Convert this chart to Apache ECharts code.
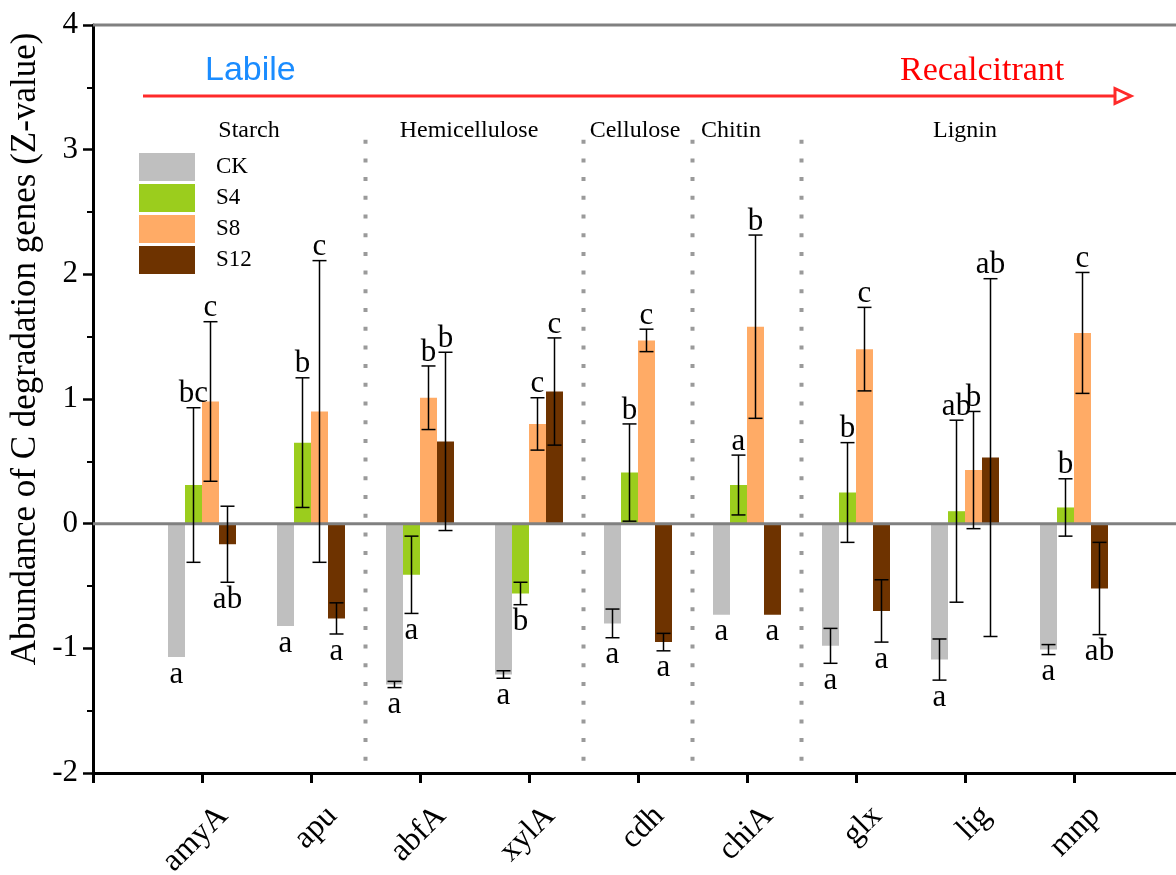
<!DOCTYPE html>
<html><head><meta charset="utf-8">
<script src="https://cdn.jsdelivr.net/npm/echarts@6/dist/echarts.min.js"></script>
<style>html,body{margin:0;padding:0;background:#fff}#c{width:1176px;height:875px}</style>
</head><body><div id="c"></div>
<script>
// ---------------- data ----------------
const genes = ['amyA','apu','abfA','xylA','cdh','chiA','glx','lig','mnp'];
const treatments = ['CK','S4','S8','S12'];
const meanCK  = [-1.07,-0.82,-1.29,-1.21,-0.80,-0.73,-0.98,-1.09,-1.01];
const errCK   = [0,0,0.025,0.03,0.115,0,0.14,0.165,0.04];
const meanS4  = [0.31,0.65,-0.41,-0.56,0.41,0.31,0.25,0.10,0.13];
const errS4   = [0.62,0.52,0.31,0.09,0.39,0.24,0.40,0.73,0.23];
const meanS8  = [0.98,0.90,1.01,0.80,1.47,1.58,1.40,0.43,1.53];
const errS8   = [0.64,1.21,0.255,0.21,0.09,0.735,0.335,0.47,0.485];
const meanS12 = [-0.165,-0.76,0.66,1.06,-0.95,-0.73,-0.70,0.53,-0.52];
const errS12  = [0.305,0.125,0.715,0.43,0.07,0,0.25,1.435,0.37];
const sigCK  = ['a','a','a','a','a','a','a','a','a'];
const sigS4  = ['bc','b','a','b','b','a','b','ab','b'];
const sigS8  = ['c','c','b','c','c','b','c','b','c'];
const sigS12 = ['ab','a','b','c','a','a','a','ab','ab'];
const groupLabels = ['Starch','Hemicellulose','Cellulose','Chitin','Lignin'];
const dividerAfter = ['apu','xylA','cdh','chiA'];
const yMin = -2, yMax = 4, yStep = 1;
const refLines = [0, 4];

// ---------------- style ----------------
const colors = ['#bfbfbf','#9bcd1d','#ffab66','#6e3300'];
const BAR_W = 17;
const SERIF = '"Liberation Serif","Times New Roman",serif';
const SANS = '"Liberation Sans",Arial,sans-serif';

const means = [meanCK, meanS4, meanS8, meanS12];
const errs = [errCK, errS4, errS8, errS12];
const sigs = [sigCK, sigS4, sigS8, sigS12];
const axisCats = [''].concat(genes, ['']);

function errRender(k) {
  return function (params, api) {
    const i = api.value(0), m = api.value(1), e = api.value(2);
    const c = api.coord([i, m]);
    const x = c[0] + (k - 1.5) * BAR_W;
    const hi = api.coord([i, m + e])[1];
    const lo = api.coord([i, m - e])[1];
    const ch = [];
    const ls = {stroke: '#000', lineWidth: 1.5};
    if (e > 0) {
      ch.push({type: 'line', shape: {x1: x, y1: hi, x2: x, y2: lo}, style: ls});
      ch.push({type: 'line', shape: {x1: x - 7, y1: hi, x2: x + 7, y2: hi}, style: ls});
      ch.push({type: 'line', shape: {x1: x - 7, y1: lo, x2: x + 7, y2: lo}, style: ls});
    }
    const letter = sigs[k][params.dataIndex];
    const pos = m >= 0;
    const yEdge = pos ? (e > 0 ? hi : c[1]) : (e > 0 ? lo : c[1]);
    ch.push({type: 'text', x: x, y: yEdge + 2,
      style: {text: letter, fill: '#000', font: '31px ' + SERIF,
        align: 'center', textAlign: 'center',
        verticalAlign: pos ? 'bottom' : 'top', textVerticalAlign: pos ? 'bottom' : 'top'}});
    return {type: 'group', children: ch};
  };
}

const series = [];
treatments.forEach(function (t, k) {
  series.push({
    type: 'bar', name: t, data: ['-'].concat(means[k]),
    barWidth: BAR_W, barGap: '0%', z: 2,
    itemStyle: {color: colors[k]}, emphasis: {disabled: true}
  });
});
treatments.forEach(function (t, k) {
  series.push({
    type: 'custom', name: 'err' + t, z: 5,
    data: means[k].map(function (m, j) { return [j + 1, m, errs[k][j]]; }),
    encode: {x: 0, y: 1},
    renderItem: errRender(k), silent: true
  });
});
// divider dotted lines
series.push({
  type: 'custom', name: 'dividers', z: 1, silent: true,
  data: dividerAfter.map(function (g) { return [genes.indexOf(g) + 1, 0]; }),
  encode: {x: 0, y: 1},
  renderItem: function (params, api) {
    const i = api.value(0);
    const x = (api.coord([i, 0])[0] + api.coord([i + 1, 0])[0]) / 2;
    return {type: 'line', shape: {x1: x, y1: api.coord([i, 3.08])[1], x2: x, y2: api.coord([i, yMin])[1]},
      style: {stroke: '#9a9a9a', lineWidth: 4, lineDash: [4, 14.7]}};
  }
});
// zero & top reference lines
series.push({
  type: 'custom', name: 'refs', z: 3, silent: true,
  data: refLines.map(function (v) { return [1, v]; }),
  encode: {x: 0, y: 1},
  renderItem: function (params, api) {
    const y = api.coord([1, api.value(1)])[1];
    const cs = params.coordSys;
    return {type: 'line', shape: {x1: cs.x, y1: y, x2: cs.x + cs.width, y2: y},
      style: {stroke: '#808080', lineWidth: 3}};
  }
});

const groupX = [249, 469, 635, 731, 965];
const graphic = [
  {type: 'text', x: 26, y: 349, rotation: Math.PI / 2,
    style: {text: 'Abundance of C degradation genes (Z-value)', fill: '#000', font: '35px ' + SERIF,
      align: 'center', textAlign: 'center', verticalAlign: 'middle', textVerticalAlign: 'middle'}},
  {type: 'line', shape: {x1: 143, y1: 96, x2: 1116, y2: 96}, style: {stroke: '#ff2a2a', lineWidth: 3}},
  {type: 'polygon', shape: {points: [[1115, 88.5], [1131, 96], [1115, 103.5]]},
    style: {fill: '#fff', stroke: '#ff2a2a', lineWidth: 3}},
  {type: 'text', x: 205, y: 71, style: {text: 'Labile', fill: '#1a8cff', font: '34px ' + SANS,
    align: 'left', textAlign: 'left', verticalAlign: 'middle', textVerticalAlign: 'middle'}},
  {type: 'text', x: 900, y: 71, style: {text: 'Recalcitrant', fill: '#ff0000', font: '34px ' + SERIF,
    align: 'left', textAlign: 'left', verticalAlign: 'middle', textVerticalAlign: 'middle'}}
];
groupLabels.forEach(function (g, i) {
  graphic.push({type: 'text', x: groupX[i], y: 131, style: {text: g, fill: '#000', font: '24px ' + SERIF,
    align: 'center', textAlign: 'center', verticalAlign: 'middle', textVerticalAlign: 'middle'}});
});

const option = {
  animation: false,
  backgroundColor: '#fff',
  grid: {left: 93, top: 25, width: 1090, height: 748, outerBoundsMode: 'none', containLabel: false},
  legend: {
    data: treatments, orient: 'vertical', left: 139, top: 153, padding: 0,
    itemWidth: 56, itemHeight: 28, itemGap: 3, icon: 'rect', selectedMode: false,
    textStyle: {fontFamily: SERIF, fontSize: 23, color: '#000', padding: [0, 0, 0, 16]}
  },
  xAxis: {
    type: 'category', data: axisCats, boundaryGap: false,
    axisLine: {onZero: false, lineStyle: {color: '#000', width: 3}},
    axisTick: {show: true, interval: 0, length: 10, lineStyle: {color: '#000', width: 3}},
    axisLabel: {interval: 0, rotate: 45, align: 'right', verticalAlign: 'top', margin: 17, lineHeight: 60,
      fontFamily: SERIF, fontSize: 32, color: '#000'},
    splitLine: {show: false}
  },
  yAxis: {
    type: 'value', min: yMin, max: yMax, interval: yStep,
    axisLine: {show: true, lineStyle: {color: '#000', width: 3}},
    axisTick: {show: true, length: 10, lineStyle: {color: '#000', width: 2.5}},
    minorTick: {show: true, splitNumber: 2, length: 6, lineStyle: {color: '#000', width: 2}},
    axisLabel: {fontFamily: SERIF, fontSize: 31, color: '#000', margin: 15},
    splitLine: {show: false}
  },
  graphic: graphic,
  series: series
};
const chart = echarts.init(document.getElementById('c'), null, {renderer: 'canvas'});
chart.setOption(option);
</script></body></html>
